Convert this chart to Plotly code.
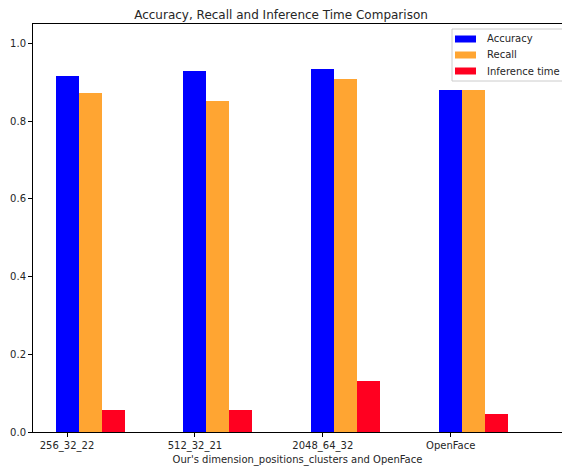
import plotly.graph_objects as go

categories = ["256_32_22", "512_32_21", "2048_64_32", "OpenFace"]
accuracy = [0.915, 0.929, 0.935, 0.881]
recall = [0.873, 0.851, 0.909, 0.881]
inference_time = [0.057, 0.057, 0.131, 0.046]
y_ticks = [0.0, 0.2, 0.4, 0.6, 0.8, 1.0]
series_names = ["Accuracy", "Recall", "Inference time"]
series_colors = ["#0000FF", "#FFA532", "#FF0020"]

W = 0.18
font = "DejaVu Sans, sans-serif"
txt = "#262626"

fig = go.Figure()
for i, (name, vals, col) in enumerate(zip(series_names, [accuracy, recall, inference_time], series_colors)):
    fig.add_trace(go.Bar(x=categories, y=vals, name=name, marker_color=col,
                         width=W, offset=-W / 2 + i * W, marker_line_width=0))

# plot area in pixels: x 33..562, y 24..432
PX0, PX1, PY0, PY1 = 33, 562, 24, 432
def px(x):
    return (x - PX0) / (PX1 - PX0)
def py(y):
    return (PY1 - y) / (PY1 - PY0)

shapes = [dict(type="rect", xref="paper", yref="paper", x0=px(452), x1=px(575), y0=py(81), y1=py(29),
               line=dict(color="#cccccc", width=1), fillcolor="rgba(255,255,255,0.8)", layer="above")]
annotations = []
for i, (name, col) in enumerate(zip(series_names, series_colors)):
    cy = 39 + 16 * i
    shapes.append(dict(type="rect", xref="paper", yref="paper", x0=px(455), x1=px(476),
                       y0=py(cy + 3.5), y1=py(cy - 3.5), line=dict(width=0), fillcolor=col, layer="above"))
    annotations.append(dict(text=name, xref="paper", yref="paper", x=px(485), y=py(cy),
                            xanchor="left", yanchor="middle", showarrow=False,
                            font=dict(size=10, color=txt)))

fig.update_layout(
    width=562, height=471,
    margin=dict(l=33, r=0, t=24, b=39, autoexpand=False),
    paper_bgcolor="white", plot_bgcolor="white",
    font=dict(family=font, size=10, color=txt),
    title=dict(text="Accuracy, Recall and Inference Time Comparison", x=px(281), xref="paper",
               xanchor="center", y=1, yref="paper", yanchor="bottom", pad=dict(b=5),
               font=dict(size=12, color=txt), automargin=False),
    showlegend=False,
    shapes=shapes,
    annotations=annotations,
    bargap=0,
)
fig.update_xaxes(type="category", range=[-0.266, 3.87], showline=True, linecolor="black",
                 linewidth=1, mirror=True, ticks="outside", ticklen=4, tickcolor="black",
                 showgrid=False, zeroline=False, automargin=False,
                 title=dict(text="Our's dimension_positions_clusters and OpenFace",
                            font=dict(size=10, color=txt), standoff=4))
fig.update_yaxes(range=[0, 1.05], tickvals=y_ticks, ticktext=[f"{v:.1f}" for v in y_ticks],
                 showline=True, linecolor="black", linewidth=1, mirror=False, automargin=False,
                 ticks="outside", ticklen=4, tickcolor="black", showgrid=False, zeroline=False)

fig.write_html("out.html", config={"displayModeBar": False},
               post_script="document.body.style.margin='0';document.body.style.overflow='hidden';")
